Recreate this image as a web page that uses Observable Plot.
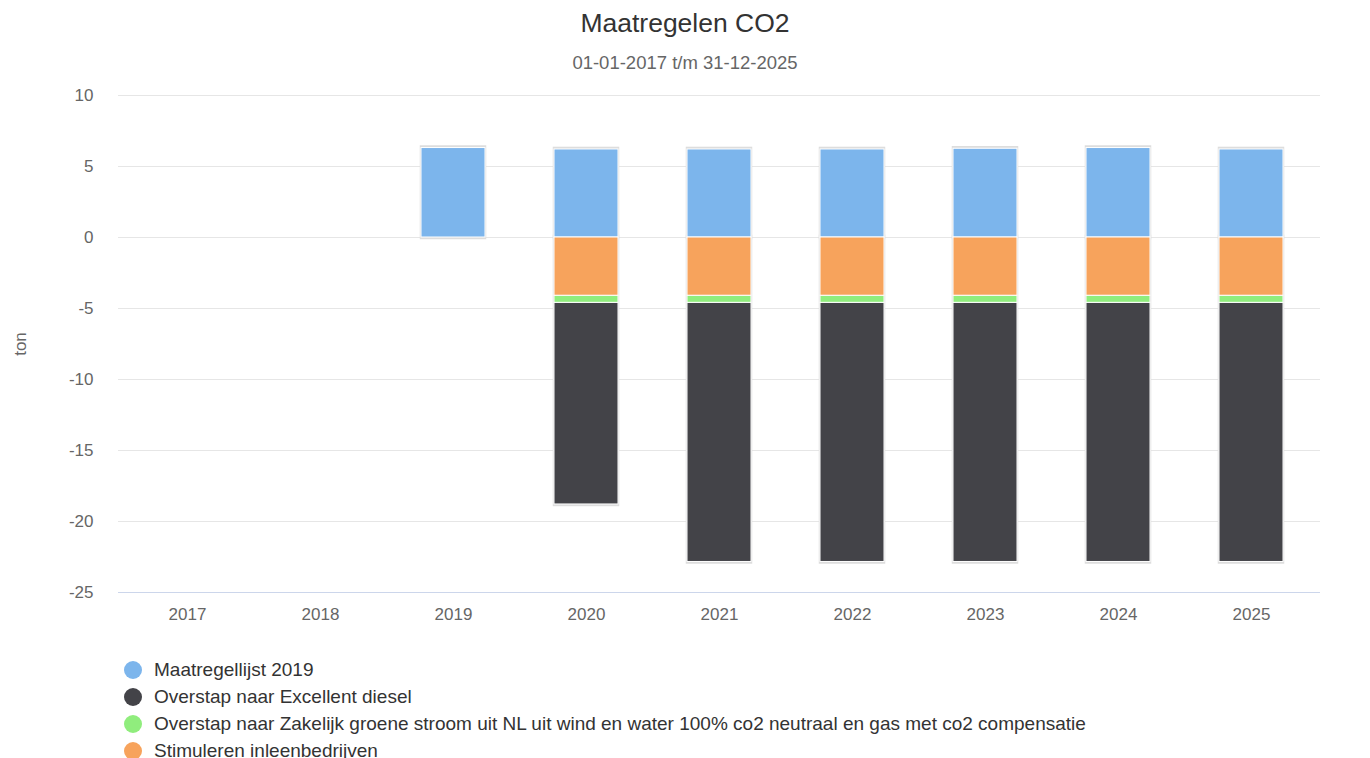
<!DOCTYPE html>
<html>
<head>
<meta charset="utf-8">
<script src="https://cdn.jsdelivr.net/npm/d3@7"></script>
<script src="https://cdn.jsdelivr.net/npm/@observablehq/plot@0.6"></script>
<style>
  html, body { margin: 0; padding: 0; background: #fff; overflow: hidden; }
  #wrap { position: relative; width: 1370px; height: 758px; font-family: "Liberation Sans", Arial, sans-serif; }
  #title { position: absolute; top: 8px; left: 0; width: 1370px; text-align: center; font-size: 26.5px; color: #333; }
  #subtitle { position: absolute; top: 52px; left: 0; width: 1370px; text-align: center; font-size: 18.5px; color: #666; }
  #chart { position: absolute; top: 80px; left: 0; }
  #legend { position: absolute; top: 656px; left: 124px; }
  .li { display: flex; align-items: center; height: 27px; font-size: 19px; color: #333; }
  .dot { width: 18px; height: 18px; border-radius: 50%; margin-right: 12px; }
</style>
</head>
<body>
<div id="wrap">
  <div id="title">Maatregelen CO2</div>
  <div id="subtitle">01-01-2017 t/m 31-12-2025</div>
  <div id="chart"></div>
  <div id="legend"></div>
</div>
<script>
const years = ["2017","2018","2019","2020","2021","2022","2023","2024","2025"];
const seriesNames = [
  "Maatregellijst 2019",
  "Overstap naar Excellent diesel",
  "Overstap naar Zakelijk groene stroom uit NL uit wind en water 100% co2 neutraal en gas met co2 compensatie",
  "Stimuleren inleenbedrijven"
];
const seriesColors = ["#7cb5ec", "#434348", "#90ed7d", "#f7a35c"];
const maatregellijst = [null, null, 6.3, 6.2, 6.2, 6.2, 6.25, 6.3, 6.2];
const excellentDiesel = [null, null, null, -14.2, -18.25, -18.25, -18.25, -18.25, -18.25];
const groeneStroom = [null, null, null, -0.5, -0.5, -0.5, -0.5, -0.5, -0.5];
const inleenbedrijven = [null, null, null, -4.1, -4.1, -4.1, -4.1, -4.1, -4.1];
const yTicks = [10, 5, 0, -5, -10, -15, -20, -25];

const seriesValues = [maatregellijst, excellentDiesel, groeneStroom, inleenbedrijven];
const rows = [];
seriesNames.forEach((s, i) => {
  years.forEach((y, j) => {
    const v = seriesValues[i][j];
    if (v != null) rows.push({year: y, series: s, value: v});
  });
});
// stack outline extents (from data)
const outline = [];
years.forEach((y, j) => {
  let pos = 0, neg = 0;
  seriesValues.forEach(arr => { const v = arr[j]; if (v != null) { if (v > 0) pos += v; else neg += v; } });
  if (pos > 0) outline.push({year: y, y1: 0, y2: pos});
  if (neg < 0) outline.push({year: y, y1: neg, y2: 0});
});

const stackOrder = [seriesNames[3], seriesNames[2], seriesNames[1], seriesNames[0]];

const chart = Plot.plot({
  width: 1370,
  height: 560,
  marginTop: 15,
  marginBottom: 48,
  marginLeft: 118,
  marginRight: 50,
  style: { fontFamily: "Liberation Sans, Arial, sans-serif", fontSize: "17px", color: "#666", background: "transparent" },
  x: { domain: years, paddingInner: 0.52, paddingOuter: 0.26, label: null },
  y: { domain: [-25, 10], label: null },
  color: { domain: seriesNames, range: seriesColors },
  marks: [
    Plot.ruleY(yTicks, { stroke: "#e6e6e6", strokeWidth: 1 }),
    Plot.ruleY([-25], { stroke: "#ccd6eb", strokeWidth: 1 }),
    Plot.axisY({ ticks: yTicks, tickFormat: d => String(d), tickSize: 0, tickPadding: 25, fill: "#666", fontSize: 17, label: null }),
    Plot.axisX({ tickSize: 0, tickPadding: 15, fill: "#666", fontSize: 17, label: null }),
    Plot.text(["ton"], { frameAnchor: "left", textAnchor: "middle", dx: -98, rotate: -90, fill: "#666", fontSize: 17 }),
    Plot.barY(outline, { x: "year", y1: "y1", y2: "y2", fill: "none", stroke: "#dddddd", strokeWidth: 2.5, insetTop: -1, insetBottom: -1 }),
    Plot.barY(rows, Plot.stackY({ order: stackOrder }, { x: "year", y: "value", fill: "series", stroke: "#fff", strokeWidth: 1 }))
  ]
});
document.getElementById("chart").appendChild(chart);

const legend = document.getElementById("legend");
seriesNames.forEach((s, i) => {
  const d = document.createElement("div");
  d.className = "li";
  d.innerHTML = `<span class="dot" style="background:${seriesColors[i]}"></span><span>${s}</span>`;
  legend.appendChild(d);
});
</script>
</body>
</html>
